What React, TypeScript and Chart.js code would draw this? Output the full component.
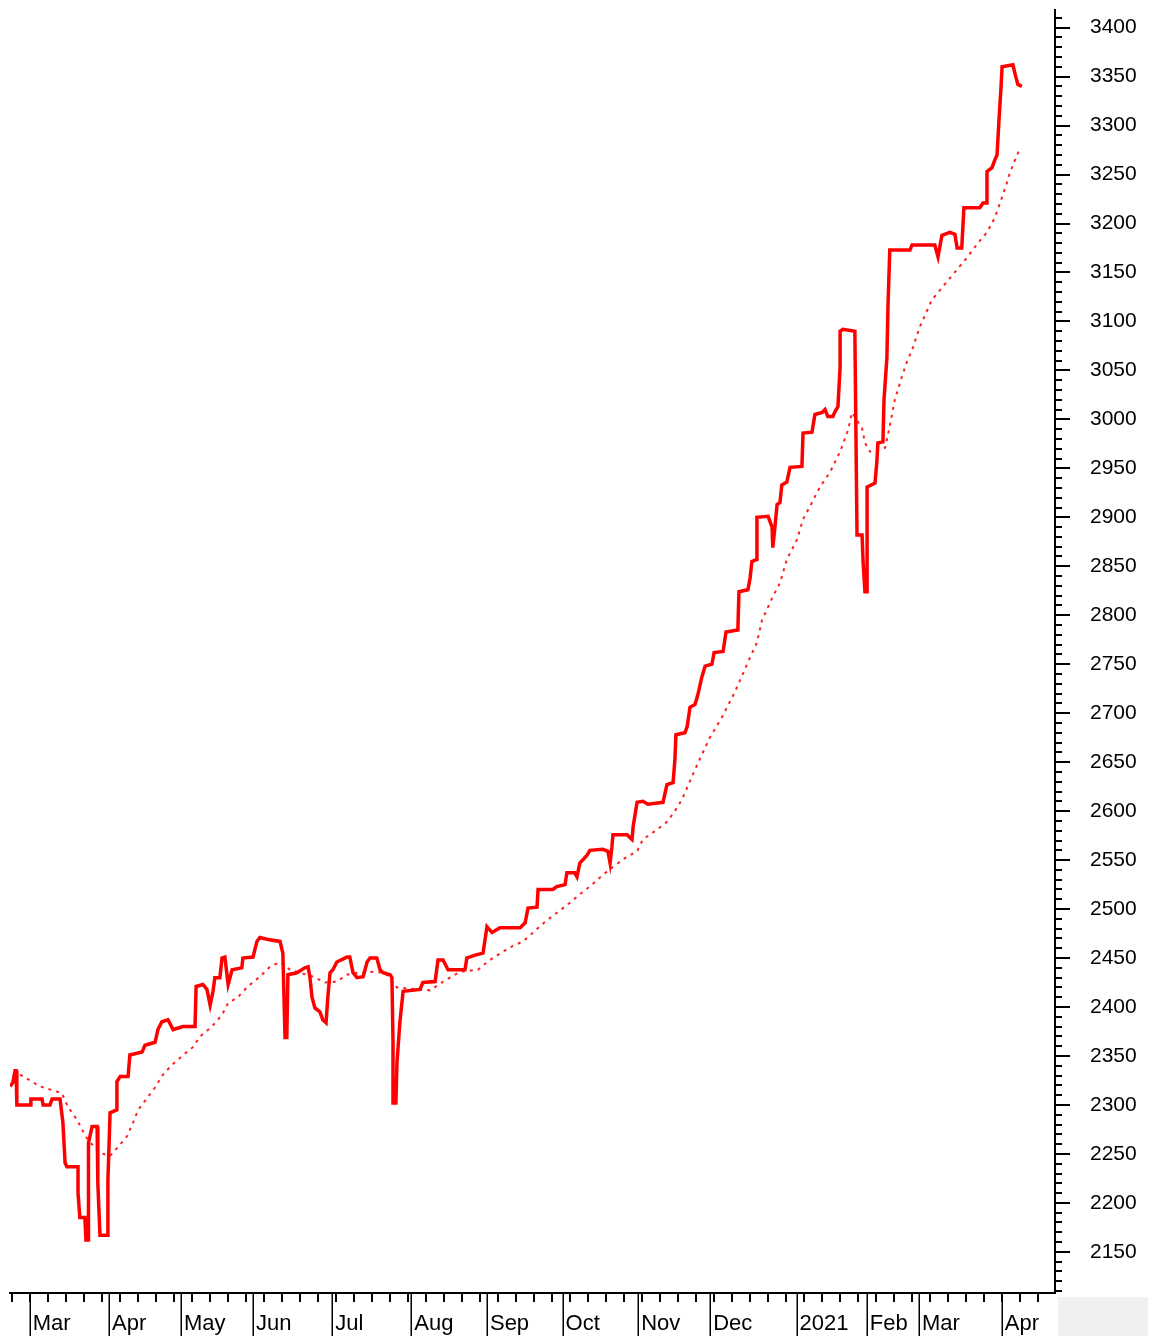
import React, { useEffect, useRef } from 'react';
import { Chart, registerables } from 'chart.js';

Chart.register(...registerables);

// Trading-day index (x) and index level (y) of the main series
const mainDays = [
  0, 0.8, 1.4, 1.7, 1.9, 5.6, 5.8, 8.9, 9.2, 11.1, 11.7, 13.9, 14.7, 15.3, 15.8, 18.9, 18.9, 19.4, 20.8, 21.1,
  21.7, 21.7, 21.9, 22.8, 24.2, 24.4, 25, 27.2, 27.2, 27.8, 29.7, 29.7, 30.6, 32.8, 33.3, 36.7, 37.5, 40.3, 41.1, 42.2,
  43.9, 45.3, 48.1, 51.4, 51.7, 53.6, 54.7, 55.6, 56.4, 56.9, 58.3, 58.9, 59.7, 60.6, 61.7, 64.4, 64.7, 67.5, 68.6, 69.4,
  71.7, 75, 75.8, 76.4, 76.9, 77.2, 79.7, 81.9, 82.8, 83.3, 83.9, 84.7, 86.1, 86.9, 87.8, 88.3, 88.9, 89.7, 90.8, 93.6,
  94.4, 95.3, 96.4, 98.1, 99.2, 100, 101.9, 102.8, 103.6, 105.6, 106.1, 106.4, 106.4, 107.2, 107.5, 108.3, 109.2, 113.9, 114.7, 118.1,
  118.9, 120.3, 121.7, 126.4, 126.9, 129.2, 131.4, 132.5, 133.9, 136.1, 141.7, 143.1, 143.9, 146.4, 146.7, 150.8, 151.9, 154.2, 154.7, 156.9,
  157.5, 158.3, 160.3, 161.1, 164.7, 166.1, 166.7, 167.2, 167.5, 171.4, 172.8, 173.1, 174.2, 175.8, 177.2, 181.4, 182.5, 184.2, 184.7, 185,
  187.5, 188.1, 188.9, 190.3, 191.1, 192.2, 193.1, 195, 195.6, 198.1, 198.9, 202.2, 202.5, 205, 205.6, 206.1, 207.5, 207.5, 210.6, 211.7,
  211.9, 212.5, 213.1, 213.9, 214.4, 215.8, 216.7, 220, 220.3, 222.8, 223.6, 225.6, 226.4, 227.2, 228.6, 229.2, 230, 230.6, 230.6, 231.4,
  234.7, 235, 235.3, 236.7, 237, 237.5, 238.1, 238.1, 240.3, 240.8, 241.1, 242.5, 242.8, 243.6, 243.9, 244.4, 250, 250.6, 256.9, 257.8,
  258.9, 261.1, 262.5, 263.1, 264.4, 264.7, 265, 269.4, 270.3, 271.4, 271.4, 272.8, 273.6, 274.2, 274.7, 275.3, 275.6, 278.6, 279.4, 280,
  281.1,
];
const mainValues = [
  2319, 2323, 2335, 2335, 2300, 2300, 2306, 2306, 2300, 2300, 2306, 2306, 2282, 2241, 2237, 2237, 2210, 2185, 2185, 2162,
  2162, 2211, 2261, 2278, 2278, 2220, 2167, 2167, 2223, 2292, 2295, 2324, 2329, 2329, 2351, 2354, 2361, 2364, 2377, 2385,
  2387, 2377, 2380, 2380, 2421, 2423, 2418, 2402, 2416, 2430, 2430, 2450, 2451, 2423, 2438, 2440, 2450, 2451, 2467, 2471,
  2469, 2467, 2455, 2369, 2369, 2433, 2435, 2440, 2441, 2431, 2410, 2399, 2395, 2387, 2384, 2410, 2435, 2438, 2446, 2451,
  2451, 2435, 2430, 2431, 2446, 2450, 2450, 2438, 2435, 2433, 2430, 2364, 2302, 2302, 2343, 2384, 2416, 2418, 2425, 2426,
  2448, 2448, 2438, 2438, 2450, 2453, 2455, 2482, 2476, 2481, 2481, 2486, 2501, 2502, 2520, 2520, 2523, 2525, 2537, 2537,
  2533, 2547, 2555, 2560, 2561, 2559, 2547, 2563, 2576, 2576, 2571, 2584, 2609, 2610, 2607, 2609, 2627, 2629, 2652, 2678,
  2680, 2686, 2706, 2709, 2719, 2737, 2748, 2750, 2762, 2763, 2783, 2785, 2824, 2826, 2838, 2855, 2857, 2900, 2901, 2890,
  2869, 2890, 2913, 2915, 2933, 2936, 2951, 2952, 2986, 2987, 3005, 3007, 3010, 3003, 3003, 3008, 3013, 3053, 3090, 3092,
  3090, 2986, 2882, 2882, 2854, 2824, 2824, 2931, 2935, 2956, 2976, 2977, 3020, 3063, 3115, 3173, 3173, 3178, 3178, 3166,
  3188, 3191, 3189, 3175, 3175, 3196, 3216, 3216, 3221, 3221, 3253, 3257, 3265, 3270, 3303, 3339, 3360, 3362, 3350, 3342,
  3340,
];

// Moving average (dotted)
const avgDays = [
  2.8, 8.3, 14.4, 16.1, 18.6, 20.3, 21.7, 25, 27.8, 30, 32.5, 34.2, 35.6, 38.1, 40.3, 42.5, 45, 47.8, 50.8, 52.8,
  56.1, 58.9, 60.6, 63.3, 66.1, 69.4, 72.2, 75, 77.8, 80.6, 84.2, 87.5, 90.8, 93.6, 96.7, 100.8, 104.2, 107.5, 116.7, 120.8,
  125, 130, 133.3, 138.9, 142.5, 145.3, 148.6, 154.7, 158.3, 161.7, 164.7, 167.5, 170.8, 174.2, 175.8, 179.7, 182.5, 184.7, 186.7, 189.4,
  191.1, 194.4, 197.8, 201.4, 205.6, 207.5, 208.9, 211.9, 213.9, 215.8, 218.6, 220.3, 222.2, 225, 227.8, 230.6, 232.8, 233.9, 236.7, 237.5,
  238.9, 243.1, 244.4, 245.8, 247.8, 249.2, 250.6, 252.8, 256.1, 259.7, 265.8, 268.9, 271.4, 273.6, 275.6, 276.9, 277.8, 279.2, 280.6,
];
const avgValues = [
  2331, 2319, 2312, 2298, 2285, 2273, 2264, 2251, 2248, 2257, 2268, 2282, 2295, 2307, 2318, 2331, 2341, 2350, 2359, 2370,
  2380, 2392, 2404, 2410, 2421, 2431, 2441, 2446, 2438, 2435, 2431, 2425, 2426, 2433, 2435, 2436, 2435, 2420, 2417, 2427,
  2436, 2438, 2448, 2461, 2467, 2476, 2487, 2504, 2515, 2525, 2535, 2543, 2552, 2559, 2571, 2581, 2589, 2600, 2612, 2635,
  2649, 2675, 2696, 2722, 2757, 2772, 2795, 2819, 2833, 2857, 2877, 2898, 2911, 2931, 2946, 2967, 2989, 3007, 2991, 2976,
  2967, 2971, 2993, 3020, 3044, 3059, 3071, 3095, 3122, 3138, 3165, 3180, 3191, 3206, 3227, 3241, 3252, 3265, 3277,
];

const monthTickDays = [5.5, 27.5, 47.5, 67.5, 89.5, 111.5, 132.5, 153.5, 174.5, 194.5, 218.5, 238, 252.5, 275.5];
const monthLabels = ['Mar', 'Apr', 'May', 'Jun', 'Jul', 'Aug', 'Sep', 'Oct', 'Nov', 'Dec', '2021', 'Feb', 'Mar', 'Apr'];
const yLabelValues = [
  2150, 2200, 2250, 2300, 2350, 2400, 2450, 2500, 2550, 2600, 2650, 2700, 2750,
  2800, 2850, 2900, 2950, 3000, 3050, 3100, 3150, 3200, 3250, 3300, 3350, 3400,
];

const X_MIN = 0;
const X_MAX = 290.3;
const Y_MIN = 2108;
const Y_MAX = 3418;

export default function App() {
  const ref = useRef<HTMLCanvasElement>(null);

  useEffect(() => {
    const canvas = ref.current;
    if (!canvas) return;

    const axisPlugin = {
      id: 'axisMarks',
      afterDraw(chart: any) {
        const ctx = chart.ctx as CanvasRenderingContext2D;
        const { right, bottom } = chart.chartArea;
        const xs = chart.scales.x;
        const ys = chart.scales.y;
        ctx.save();
        ctx.strokeStyle = '#000';
        // y axis ticks (every 10, longer every 50)
        ctx.lineWidth = 2;
        for (let v = Math.ceil(Y_MIN / 10) * 10; v <= Y_MAX; v += 10) {
          const y = Math.round(ys.getPixelForValue(v));
          const len = v % 50 === 0 ? 15 : 7;
          ctx.beginPath();
          ctx.moveTo(right, y);
          ctx.lineTo(right + len, y);
          ctx.stroke();
        }
        // weekly ticks on x axis
        ctx.lineWidth = 2;
        for (let d = 0.5; d < X_MAX; d += 5) {
          const x = Math.round(xs.getPixelForValue(d));
          ctx.beginPath();
          ctx.moveTo(x, bottom);
          ctx.lineTo(x, bottom + 9);
          ctx.stroke();
        }
        // month separators
        ctx.lineWidth = 1.5;
        monthTickDays.forEach((d) => {
          const x = Math.round(xs.getPixelForValue(d)) + 0.25;
          ctx.beginPath();
          ctx.moveTo(x, bottom);
          ctx.lineTo(x, chart.height);
          ctx.stroke();
        });
        // grey box bottom right
        ctx.fillStyle = '#f0f0f0';
        ctx.fillRect(right + 3, bottom + 4, 90, chart.height - bottom - 4);
        ctx.restore();
      },
    };

    const chart = new Chart(canvas, {
      type: 'line',
      data: {
        datasets: [
          {
            data: mainDays.map((d, i) => ({ x: d, y: mainValues[i] })),
            borderColor: '#ff0000',
            borderWidth: 3.5,
            pointRadius: 0,
            tension: 0,
            borderJoinStyle: 'miter',
            borderCapStyle: 'butt',
          },
          {
            data: avgDays.map((d, i) => ({ x: d, y: avgValues[i] })),
            borderColor: '#ff2020',
            borderWidth: 2,
            borderDash: [3, 5],
            pointRadius: 0,
            tension: 0,
          },
        ],
      },
      options: {
        responsive: false,
        animation: false,
        devicePixelRatio: 1,
        layout: { padding: { left: 10, top: 10, right: 0, bottom: 0 } },
        plugins: { legend: { display: false }, tooltip: { enabled: false } },
        scales: {
          x: {
            type: 'linear',
            position: 'bottom',
            min: X_MIN,
            max: X_MAX,
            afterBuildTicks: (scale: any) => {
              scale.ticks = monthTickDays.map((v) => ({ value: v }));
            },
            afterFit: (scale: any) => {
              scale.height = 43;
              scale.paddingLeft = 0;
              scale.paddingRight = 0;
              scale.paddingTop = 0;
              scale.paddingBottom = 0;
            },
            grid: { display: true, drawOnChartArea: false, drawTicks: false, color: 'rgba(0,0,0,0)' },
            border: { display: true, color: '#000', width: 2 },
            ticks: {
              autoSkip: false,
              maxRotation: 0,
              minRotation: 0,
              align: 'start',
              labelOffset: 3,
              padding: 18,
              color: '#000',
              font: { family: '"Liberation Sans", Arial, sans-serif', size: 22 },
              callback: (_v: any, i: number) => monthLabels[i],
            },
          },
          y: {
            type: 'linear',
            position: 'right',
            min: Y_MIN,
            max: Y_MAX,
            afterBuildTicks: (scale: any) => {
              scale.ticks = yLabelValues.map((v) => ({ value: v }));
            },
            afterFit: (scale: any) => {
              scale.width = 108;
              scale.paddingLeft = 0;
              scale.paddingRight = 0;
              scale.paddingTop = 0;
              scale.paddingBottom = 0;
            },
            grid: { display: true, drawOnChartArea: false, drawTicks: false, color: 'rgba(0,0,0,0)' },
            border: { display: true, color: '#000', width: 2 },
            ticks: {
              autoSkip: false,
              padding: 35,
              color: '#000',
              font: { family: '"Liberation Sans", Arial, sans-serif', size: 21 },
              callback: (v: any) => String(v),
            },
          },
        },
      },
      plugins: [axisPlugin],
    } as any);

    return () => chart.destroy();
  }, []);

  return (
    <div style={{ position: 'absolute', left: 0, top: 0, width: 1163, height: 1336, background: '#fff' }}>
      <canvas ref={ref} width={1163} height={1336} style={{ display: 'block' }} />
    </div>
  );
}
